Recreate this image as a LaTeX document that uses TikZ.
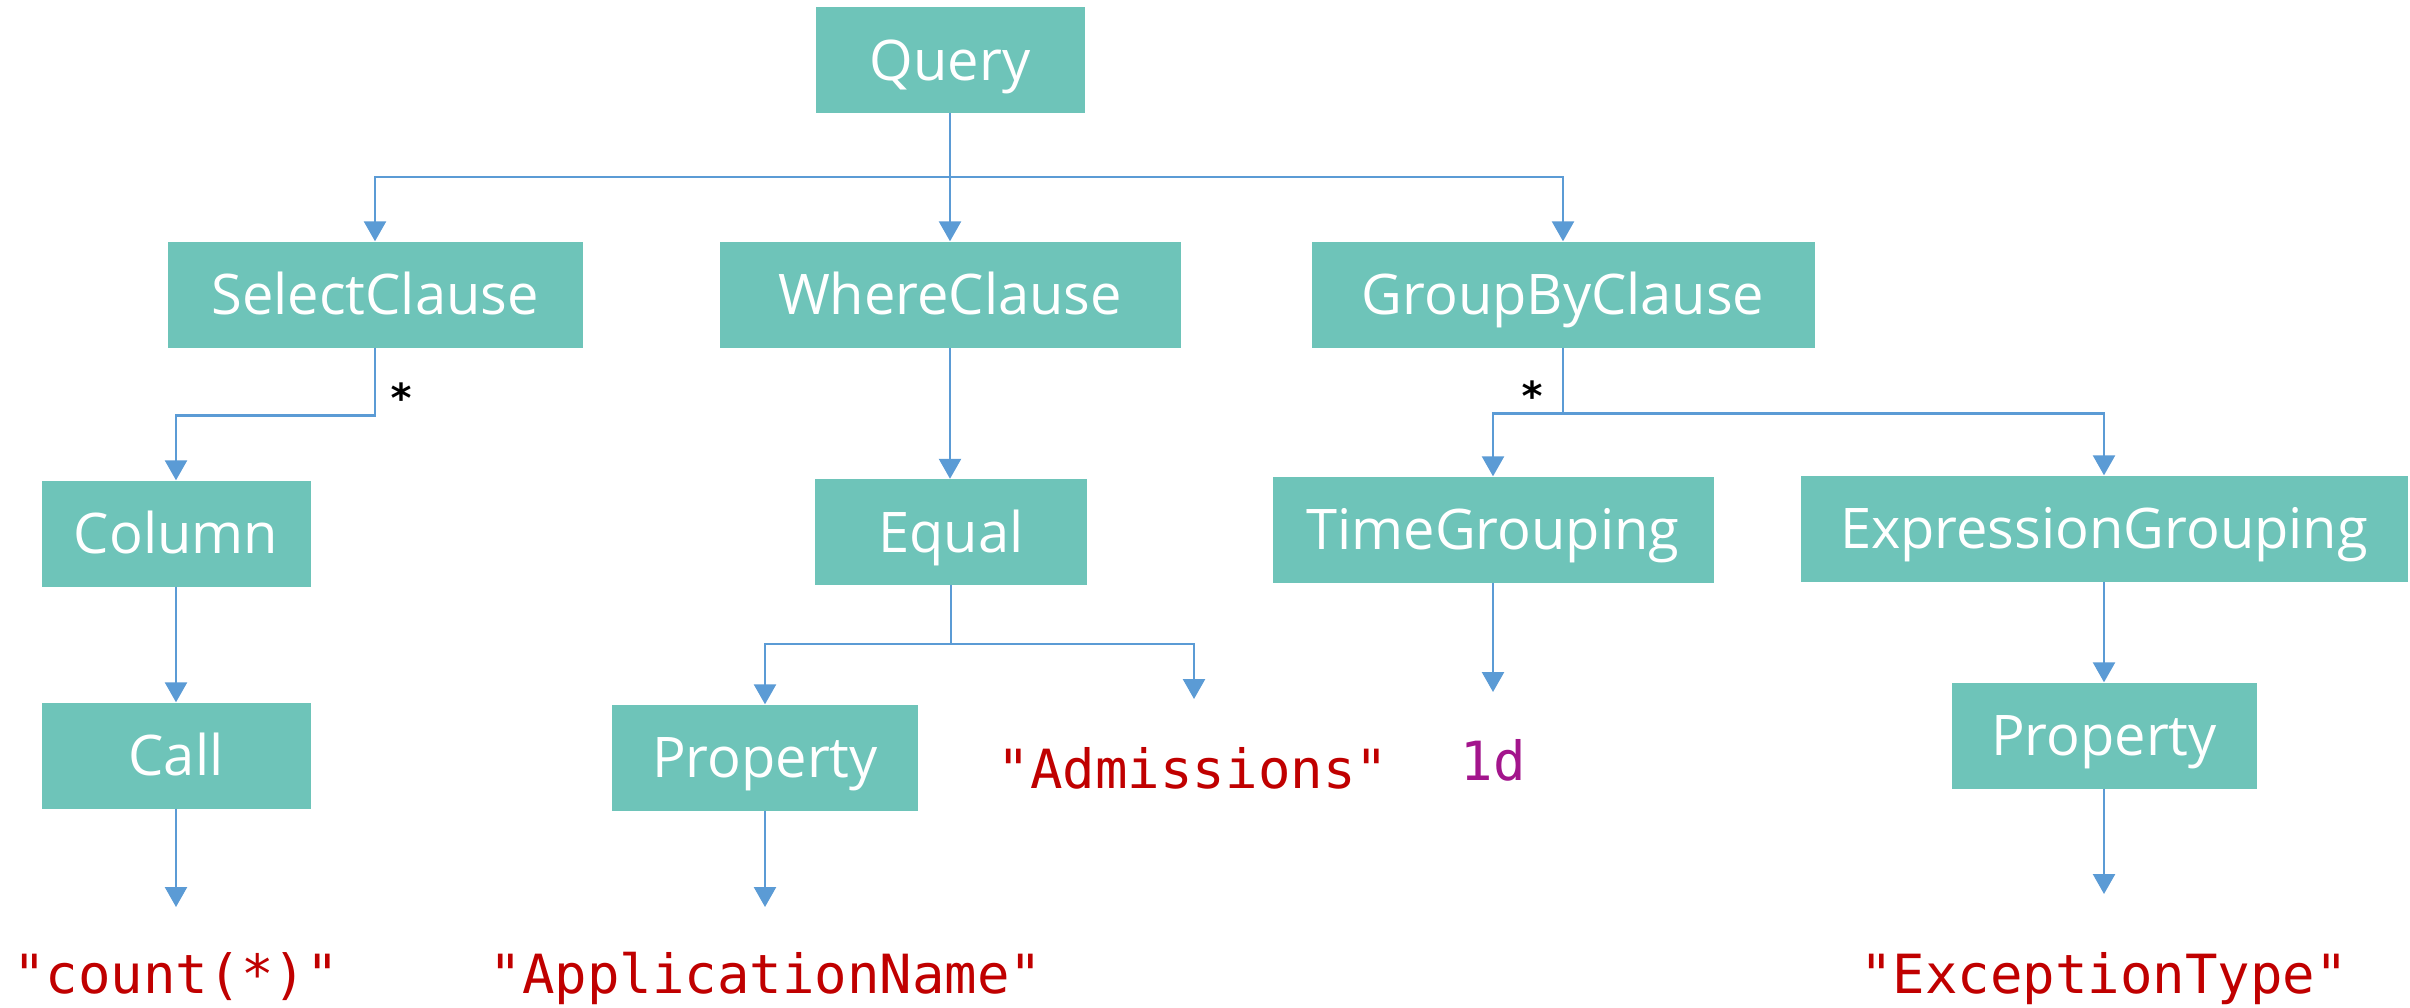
\documentclass[tikz,border=0pt]{standalone}
\usepackage{fontspec}
\setmainfont{Open Sans}
\newfontfamily\codefont{DejaVu Sans Mono}
\usetikzlibrary{arrows.meta}
\definecolor{nodeteal}{RGB}{110,196,185}
\definecolor{linkblue}{RGB}{91,155,213}
\definecolor{strred}{RGB}{192,0,0}
\definecolor{numpurple}{RGB}{163,21,140}
\begin{document}
\begin{tikzpicture}[x=1pt,y=-1pt,
  astnode/.style={fill=nodeteal, text=white, inner sep=0pt, minimum height=106pt,
    font=\fontsize{56}{60}\selectfont, text height=40pt, text depth=0pt},
  wire/.style={draw=linkblue, line width=2.5pt},
  link/.style={wire, -{Triangle[width=22pt,length=20pt]}},
  literal/.style={anchor=base, inner sep=0pt, font=\codefont\fontsize{54}{60}\selectfont},
  strlit/.style={literal, text=strred},
  numlit/.style={literal, text=numpurple},
  mult/.style={anchor=base, inner sep=0pt, font=\codefont\bfseries\fontsize{40}{44}\selectfont}]

\useasboundingbox (0,0) rectangle (2410,1007);
\fill[white] (0,0) rectangle (2410,1007);

% syntax tree nodes
\node[astnode, minimum width=269pt] (query)   at (950,60)      {Query};
\node[astnode, minimum width=415pt] (select)  at (375,294.5)   {SelectClause};
\node[astnode, minimum width=461pt] (where)   at (950,294.5)   {WhereClause};
\node[astnode, minimum width=503pt] (groupby) at (1563,294.5)  {GroupByClause};
\node[astnode, minimum width=269pt] (column)  at (176,533.5)   {Column};
\node[astnode, minimum width=269pt] (call)    at (176,755.5)   {Call};
\node[astnode, minimum width=272pt] (equal)   at (951,532)     {Equal};
\node[astnode, minimum width=306pt] (prop1)   at (765,757.5)   {Property};
\node[astnode, minimum width=441pt] (timeg)   at (1493,529.5)  {TimeGrouping};
\node[astnode, minimum width=607pt] (exprg)   at (2104,528.5)  {ExpressionGrouping};
\node[astnode, minimum width=305pt] (prop2)   at (2104,735.5)  {Property};

% literal leaves
\node[strlit] (countlit) at (176,993)  {"count(*)"};
\node[strlit] (applit)   at (766,993)  {"ApplicationName"};
\node[strlit] (admlit)   at (1193,788) {"Admissions"};
\node[numlit] (daylit)   at (1493,780) {1d};
\node[strlit] (exclit)   at (2104,993) {"ExceptionType"};

% arrow ends above the leaves
\coordinate (countin) at (176,907);
\coordinate (appin)   at (765,907);
\coordinate (admin)   at (1194,699);
\coordinate (dayin)   at (1493,692);
\coordinate (excin)   at (2104,894);

% Query children
\path (query.south) ++(0,64) coordinate (qbus);
\draw[link] (query.south) -- (query.south |- where.north);
\draw[link] (qbus) -| (select.north);
\draw[link] (qbus) -| (groupby.north);

% SelectClause
\draw[link] (select.south) -- ++(0,68) -| (column.north);
\node[mult] (selstar) at (402,412) {*};
\draw[link] (column.south) -- (call.north);
\draw[link] (call.south) -- (call.south |- countin);

% WhereClause
\draw[link] (where.south) -- (where.south |- equal.north);
\path (equal.south) ++(0,59) coordinate (ebus);
\draw[wire] (equal.south) -- (ebus);
\draw[link] (ebus) -| (prop1.north);
\draw[link] (ebus) -| (admin);
\draw[link] (prop1.south) -- (prop1.south |- appin);

% GroupByClause
\path (groupby.south) ++(0,66) coordinate (gbus);
\draw[wire] (groupby.south) -- (gbus);
\node[mult] (grpstar) at (1533,410) {*};
\draw[link] (gbus) -| (timeg.north);
\draw[link] (gbus) -| (exprg.north);
\draw[link] (timeg.south) -- (timeg.south |- dayin);
\draw[link] (exprg.south) -- (prop2.north);
\draw[link] (prop2.south) -- (prop2.south |- excin);
\end{tikzpicture}
\end{document}
